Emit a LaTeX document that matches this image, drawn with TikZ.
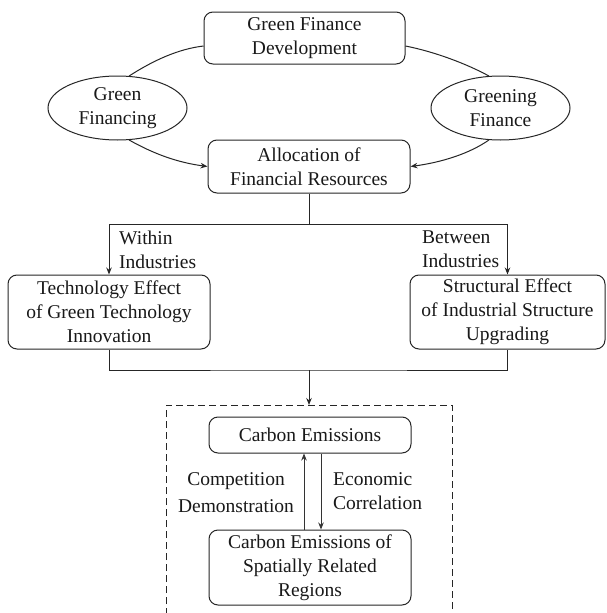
\documentclass[tikz,border=0pt]{standalone}
\usepackage{fontspec}
\setmainfont{Liberation Serif}
\newfontfamily\tnr{Liberation Serif}
\usetikzlibrary{arrows.meta,shapes.geometric}
\begin{document}
\begin{tikzpicture}[x=1pt,y=-1pt,
  line/.style={draw=black!85, line width=1pt},
  arr/.style={line, -{Stealth[length=7pt,width=5.5pt]}},
  thinarr/.style={draw=black!80, line width=0.75pt, -{Stealth[length=7pt,width=5.5pt]}},
  txt/.style={font=\tnr\fontsize{19.5}{24}\selectfont, text=black!90},
  box/.style={line, txt, rounded corners=9pt, align=center, inner sep=0pt},
  oval/.style={line, txt, ellipse, align=center, inner sep=0pt},
  lbl/.style={txt, inner sep=0pt}]
\useasboundingbox (0,0) rectangle (606,613);
\fill[white] (0,0) rectangle (606,613);

% nodes
\node[box, minimum width=201pt, minimum height=52pt] (top) at (304.5,38) {Green Finance\\Development};
\node[oval, minimum width=139pt, minimum height=64pt] (gf) at (117.5,108) {Green\\Financing};
\node[oval, minimum width=139pt, minimum height=64pt] (gr) at (500.5,108) {Greening\\Finance};
\node[box, minimum width=202pt, minimum height=53pt] (alloc) at (309,166.5) {Allocation of\\Financial Resources};
\node[box, minimum width=202pt, minimum height=74pt] (tech) at (109,312) {Technology Effect\\of Green Technology\\Innovation};
\node[box, minimum width=195pt, minimum height=74pt] (struct) at (507.5,312) {Structural Effect\\of Industrial Structure\\Upgrading};
\node[box, minimum width=202pt, minimum height=36pt] (ce) at (310,435) {Carbon Emissions};
\node[box, minimum width=202pt, minimum height=75pt] (cesr) at (310,567.5) {Carbon Emissions of\\Spatially Related\\Regions};

% labels
\node[lbl, align=left, anchor=north west] (within) at (119,231) {Within\\Industries};
\node[lbl, align=left, anchor=north west] (between) at (422,231) {Between\\Industries};
\node[lbl, align=center] (comp) at (236,493) {Competition\\[3pt]Demonstration};
\node[lbl, align=left, anchor=west] (econ) at (333,491) {Economic\\Correlation};

% curved connectors
\draw[line] (gf.70) .. controls +(25,-16) and +(-25,3) .. ([yshift=-8pt]top.west);
\draw[arr] (gf.-70) .. controls +(25,14) and +(-30,-4) .. (alloc.west);
\draw[line] ([yshift=-8pt]top.east) .. controls +(30,6) and +(-22,-12) .. (gr.110);
\draw[arr] (gr.-110) .. controls +(-20,14) and +(30,-4) .. (alloc.east);

% tree connectors
\coordinate (j1) at (309,224);
\draw[line] (alloc.south) -- (j1);
\draw[arr] (j1) -| (tech.north);
\draw[arr] (j1) -| (struct.north);
\coordinate (j2) at (309,370);
\coordinate (dtop) at (309,405);
\draw[line] (tech.south) |- (j2) -| (struct.south);
\draw[arr] (j2) -- (dtop);

% dashed frame
\coordinate (dbl) at (166,615);
\coordinate (dbr) at (452,615);
\draw[line, dash pattern=on 7pt off 4pt] (dbl) -- (166,405) -- (452,405) -- (dbr);

% feedback arrows
\draw[thinarr] ([xshift=-6pt]cesr.north) -- ([xshift=-6pt]ce.south);
\draw[thinarr] ([xshift=11pt]ce.south) -- ([xshift=11pt]cesr.north);
\end{tikzpicture}
\end{document}
